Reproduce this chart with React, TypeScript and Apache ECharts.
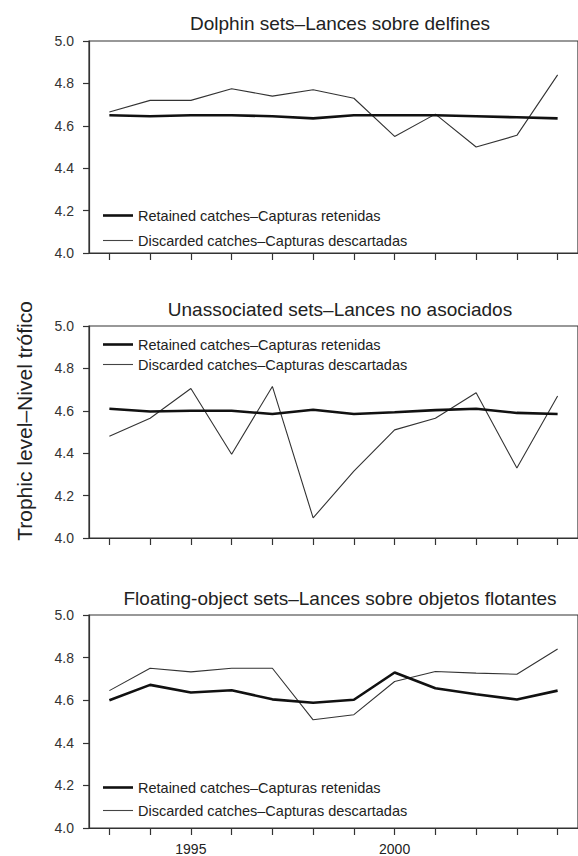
import React, { useEffect, useRef } from "react";
import * as echarts from "echarts";

const years = ["1993", "1994", "1995", "1996", "1997", "1998", "1999", "2000", "2001", "2002", "2003", "2004"];
const shownYearLabels = ["1995", "2000"];
const yTicks = { min: 4.0, max: 5.0, interval: 0.2 };

const panelTitles = [
  "Dolphin sets\u2013Lances sobre delfines",
  "Unassociated sets\u2013Lances no asociados",
  "Floating-object sets\u2013Lances sobre objetos flotantes",
];
const retainedName = "Retained catches\u2013Capturas retenidas";
const discardedName = "Discarded catches\u2013Capturas descartadas";
const yAxisTitle = "Trophic level\u2013Nivel tr\u00f3fico";

const dolphinRetained = [4.65, 4.645, 4.65, 4.65, 4.645, 4.635, 4.65, 4.65, 4.65, 4.645, 4.64, 4.635];
const dolphinDiscarded = [4.665, 4.72, 4.72, 4.775, 4.74, 4.77, 4.73, 4.55, 4.655, 4.5, 4.555, 4.84];
const unassocRetained = [4.61, 4.597, 4.6, 4.6, 4.585, 4.605, 4.585, 4.593, 4.603, 4.61, 4.59, 4.585];
const unassocDiscarded = [4.48, 4.565, 4.705, 4.395, 4.715, 4.095, 4.315, 4.51, 4.565, 4.685, 4.33, 4.67];
const floatRetained = [4.6, 4.672, 4.636, 4.647, 4.604, 4.588, 4.602, 4.73, 4.656, 4.628, 4.603, 4.645];
const floatDiscarded = [4.645, 4.75, 4.733, 4.75, 4.75, 4.508, 4.532, 4.688, 4.735, 4.727, 4.722, 4.84];

const FONT = "'Liberation Sans', Arial, Helvetica, sans-serif";
const INK = "#222";

export default function App() {
  const ref = useRef<HTMLDivElement>(null);

  useEffect(() => {
    if (!ref.current) return;
    const chart = echarts.init(ref.current, null, { renderer: "svg" });

    const panels = [
      { top: 41, height: 212, retained: dolphinRetained, discarded: dolphinDiscarded, legendTop: 208, legendGap: 10, titleTop: 14 },
      { top: 326, height: 212, retained: unassocRetained, discarded: unassocDiscarded, legendTop: 337, legendGap: 5, titleTop: 300 },
      { top: 615, height: 213, retained: floatRetained, discarded: floatDiscarded, legendTop: 780, legendGap: 8, titleTop: 589 },
    ];

    const gridLeft = 89;
    const gridWidth = 493;

    const option: any = {
      animation: false,
      backgroundColor: "#ffffff",
      textStyle: { fontFamily: FONT },
      title: panels.map((p, i) => ({
        text: panelTitles[i],
        left: 340,
        top: p.titleTop,
        padding: 0,
        textAlign: "center",
        textVerticalAlign: "top",
        textStyle: { fontSize: 19, fontWeight: "normal", color: INK, fontFamily: FONT },
      })),
      grid: panels.map((p) => ({
        left: gridLeft,
        top: p.top,
        width: gridWidth,
        height: p.height,
        show: true,
        borderColor: "#333",
        borderWidth: 1.2,
        backgroundColor: "transparent",
        containLabel: false,
      })),
      xAxis: panels.map((p, i) => ({
        type: "category",
        gridIndex: i,
        data: years,
        boundaryGap: true,
        axisLine: { show: true, lineStyle: { color: "#333", width: 1.2 } },
        axisTick: { show: true, alignWithLabel: true, interval: 0, length: 7, inside: false, lineStyle: { color: "#333", width: 1.2 } },
        axisLabel: {
          show: i === 2,
          interval: (_idx: number, val: string) => shownYearLabels.indexOf(val) >= 0,
          fontSize: 14,
          color: INK,
          margin: 14,
          fontFamily: FONT,
        },
        splitLine: { show: false },
      })),
      yAxis: panels.map((p, i) => ({
        type: "value",
        gridIndex: i,
        min: yTicks.min,
        max: yTicks.max,
        interval: yTicks.interval,
        axisLine: { show: true, lineStyle: { color: "#333", width: 1.2 } },
        axisTick: { show: true, length: 6, inside: false, lineStyle: { color: "#333", width: 1.2 } },
        axisLabel: {
          fontSize: 14,
          color: "#333",
          margin: 15,
          fontFamily: FONT,
          formatter: (v: number) => v.toFixed(1),
        },
        splitLine: { show: false },
      })),
      legend: panels.map((p, i) => ({
        orient: "vertical",
        left: 103,
        top: p.legendTop,
        padding: 0,
        itemGap: p.legendGap,
        itemWidth: 30,
        itemHeight: 14,
        selectedMode: false,
        textStyle: { fontSize: 14.5, color: INK, fontFamily: FONT, lineHeight: 14 },
        data: [
          { name: retainedName, icon: "path://M0,0H30V2.6H0Z", itemStyle: { color: "#111" } },
          { name: discardedName, icon: "path://M0,0H30V1.1H0Z", itemStyle: { color: "#444" } },
        ],
      })),
      series: panels.flatMap((p, i) => [
        {
          name: discardedName,
          type: "line",
          xAxisIndex: i,
          yAxisIndex: i,
          data: p.discarded,
          symbol: "none",
          lineStyle: { color: "#333", width: 1.1 },
          itemStyle: { color: "#444" },
          z: 2,
        },
        {
          name: retainedName,
          type: "line",
          xAxisIndex: i,
          yAxisIndex: i,
          data: p.retained,
          symbol: "none",
          lineStyle: { color: "#111", width: 2.6 },
          itemStyle: { color: "#111" },
          z: 3,
        },
      ]),
      graphic: [
        {
          type: "text",
          x: 24,
          y: 421,
          rotation: Math.PI / 2,
          style: {
            text: yAxisTitle,
            fontSize: 21,
            fontFamily: FONT,
            fill: INK,
            align: "center",
            verticalAlign: "middle",
          },
        },
      ],
    };

    chart.setOption(option);
    return () => chart.dispose();
  }, []);

  return (
    <div
      ref={ref}
      style={{ position: "fixed", left: 0, top: 0, width: 578, height: 856, background: "#fff" }}
    />
  );
}
